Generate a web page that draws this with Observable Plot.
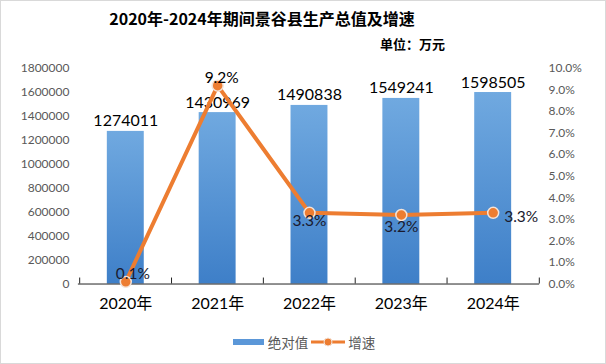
<!DOCTYPE html>
<html><head><meta charset="utf-8">
<script src="https://cdn.jsdelivr.net/npm/d3@7"></script>
<script src="https://cdn.jsdelivr.net/npm/@observablehq/plot@0.6"></script>
<style>
body{margin:0;background:#fff;}
#wrap{position:relative;width:606px;height:364px;box-sizing:border-box;border:1px solid #d9d9d9;overflow:hidden;font-family:Lato,"Noto Sans CJK SC",sans-serif;}
#title{position:absolute;left:0;width:522px;top:5px;text-align:center;font:bold 16px "Noto Sans CJK SC",sans-serif;color:#000;}
#unit{position:absolute;left:379px;top:33px;font:bold 13px "Noto Sans CJK SC",sans-serif;color:#000;}
#legend{position:absolute;left:0;width:606px;top:331px;display:flex;justify-content:center;align-items:center;font:13.5px "Noto Sans CJK SC",sans-serif;color:#595959;padding-left:0;}
#legend .it{display:flex;align-items:center;}
#plot{position:absolute;left:-1px;top:-1px;}
</style></head>
<body><div id="wrap"><div id="plot"></div>
<div id="title">2020年-2024年期间景谷县生产总值及增速</div>
<div id="unit">单位：万元</div>
<div id="legend"></div>
</div>
<script>
const years = ["2020年","2021年","2022年","2023年","2024年"];
const values = [1274011,1430969,1490838,1549241,1598505];
const rates = [0.1,9.2,3.3,3.2,3.3];
const rateLabels = ["0.1%","9.2%","3.3%","3.2%","3.3%"];
const leftTicks = [0,200000,400000,600000,800000,1000000,1200000,1400000,1600000,1800000];
const rightTicks = [0,1,2,3,4,5,6,7,8,9,10];
const seriesNames = ["绝对值","增速"];

const yMax = 1800000, rMax = 10;
const toY = r => r / rMax * yMax;
const data = years.map((y,i)=>({year:y, value:values[i], rate:rates[i], ry:toY(rates[i]), label:rateLabels[i], i}));
const blue = "#5b97d8", orange = "#ED7D31";
const font = "Lato, 'Noto Sans CJK SC', sans-serif";

const chart = Plot.plot({
  width:606, height:364,
  marginTop:68, marginBottom:80, marginLeft:78, marginRight:66,
  style:{fontFamily:font, background:"transparent"},
  x:{domain:years, paddingInner:0.6, paddingOuter:0.3, label:null},
  y:{domain:[0,yMax], label:null},
  marks:[
    Plot.barY(data,{x:"year", y:"value", fill:"url(#barGrad)", insetLeft:0, insetRight:0}),
    Plot.axisY({ticks:leftTicks, tickSize:0, tickPadding:9, tickFormat:d=>String(d), fontSize:12, fill:"#595959", label:null}),
    Plot.axisY({anchor:"right", ticks:rightTicks.map(toY), tickSize:0, tickPadding:9, tickFormat:d=>(d/yMax*rMax).toFixed(1)+"%", fontSize:12, fill:"#595959", label:null}),
    Plot.axisX({tickSize:0, tickPadding:14, fontSize:16, fill:"#000", label:null}),
    Plot.ruleY([0],{stroke:"#222", strokeWidth:1}),
    Plot.ruleX(data,{x:"year", y1:0, y2:50000, dx:-46.2, stroke:"#222"}),
    Plot.ruleX(data.slice(-1),{x:"year", y1:0, y2:50000, dx:46.2, stroke:"#222"}),
    Plot.text(data,{x:"year", y:"value", text:d=>String(d.value), lineAnchor:"bottom", dy:-5, fontSize:16, fill:"#000"}),
    Plot.line(data,{x:"year", y:"ry", stroke:orange, strokeWidth:4, strokeLinejoin:"round"}),
    Plot.dot(data,{x:"year", y:"ry", r:5.5, fill:orange, stroke:"#f3e3d8", strokeWidth:1.5}),
    Plot.text(data.filter(d=>d.i===0),{x:"year", y:"ry", text:"label", lineAnchor:"bottom", dx:7, dy:-3, fontSize:15.5, fill:"#1a1a2e"}),
    Plot.text(data.filter(d=>d.i===1),{x:"year", y:"ry", text:"label", lineAnchor:"bottom", dx:4, dy:-3, fontSize:15.5, fill:"#000"}),
    Plot.text(data.filter(d=>d.i===2),{x:"year", y:"ry", text:"label", lineAnchor:"top", dy:2, fontSize:15.5, fill:"#1a1a2e"}),
    Plot.text(data.filter(d=>d.i===3),{x:"year", y:"ry", text:"label", lineAnchor:"top", dy:6, fontSize:15.5, fill:"#1a1a2e"}),
    Plot.text(data.filter(d=>d.i===4),{x:"year", y:"ry", text:"label", textAnchor:"start", dx:11, dy:4, fontSize:15.5, fill:"#1a1a2e"})
  ]
});
const ns = "http://www.w3.org/2000/svg";
const defs = document.createElementNS(ns,"defs");
defs.innerHTML = '<linearGradient id="barGrad" x1="0" y1="0" x2="0" y2="1"><stop offset="0" stop-color="#70a9e0"/><stop offset="1" stop-color="#3e7fc8"/></linearGradient>';
chart.insertBefore(defs, chart.firstChild);
document.getElementById("plot").appendChild(chart);

const lg = document.getElementById("legend");
lg.innerHTML = `<span class="it"><svg width="31" height="8" style="margin-right:4px"><rect x="0" y="1" width="31" height="6" fill="${blue}"/></svg>${seriesNames[0]}</span>
<span class="it" style="margin-left:3px"><svg width="34" height="10" style="margin-right:3px"><line x1="0" y1="5" x2="34" y2="5" stroke="${orange}" stroke-width="3"/><circle cx="17" cy="5" r="4" fill="${orange}" stroke="#f3e3d8" stroke-width="1"/></svg>${seriesNames[1]}</span>`;
</script>
</body></html>
